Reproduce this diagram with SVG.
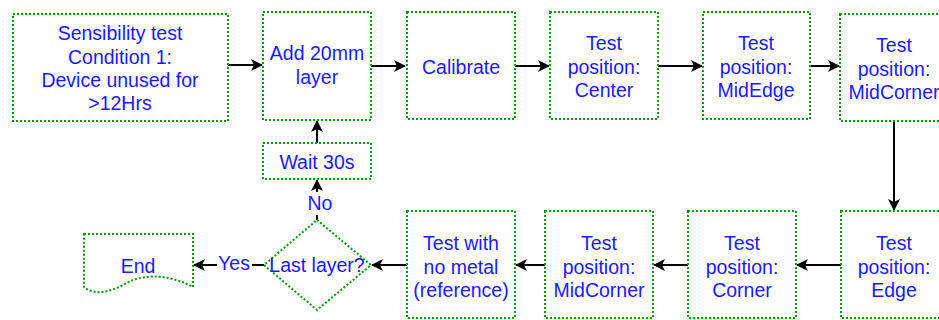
<svg xmlns="http://www.w3.org/2000/svg" width="939" height="320" viewBox="0 0 939 320">
  <style>
    .box { fill: #ffffff; stroke: #009900; stroke-width: 2; stroke-dasharray: 2 2; }
    .lbl { font-family: "Liberation Sans", Arial, sans-serif; font-size: 19.5px; fill: #1a1aff; text-anchor: middle; }
    .edge { stroke: #000000; stroke-width: 2; fill: none; marker-end: url(#arrow); }
  </style>
  <defs>
    <marker id="arrow" viewBox="0 0 12 12" refX="11" refY="6" markerWidth="6" markerHeight="6" markerUnits="strokeWidth" orient="auto">
      <path d="M0,0 L12,6 L0,12 L3,6 Z" fill="#000000"/>
    </marker>
  </defs>
  <rect width="939" height="320" fill="#ffffff"/>

  <g id="connectors">
    <line class="edge" x1="228" y1="65" x2="262" y2="65"/>
    <line class="edge" x1="371" y1="66" x2="405" y2="66"/>
    <line class="edge" x1="515" y1="66" x2="549" y2="66"/>
    <line class="edge" x1="658" y1="66" x2="702" y2="66"/>
    <line class="edge" x1="810" y1="66" x2="839" y2="66"/>
    <line class="edge" x1="894" y1="121" x2="894" y2="210"/>
    <line class="edge" x1="841" y1="265" x2="797" y2="265"/>
    <line class="edge" x1="688" y1="265" x2="654" y2="265"/>
    <line class="edge" x1="545" y1="265" x2="516" y2="265"/>
    <line class="edge" x1="407" y1="265" x2="372" y2="265"/>
    <line class="edge" x1="317" y1="143" x2="317" y2="121"/>
    <!-- No branch -->
    <line x1="317" y1="220" x2="317" y2="215" stroke="#000" stroke-width="2"/>
    <line class="edge" x1="317" y1="192" x2="317" y2="180"/>
    <!-- Yes branch -->
    <line x1="264" y1="265" x2="252" y2="265" stroke="#000" stroke-width="2"/>
    <line class="edge" x1="217" y1="265" x2="194" y2="265"/>
    <text class="lbl" x="320" y="210">No</text>
    <text class="lbl" x="234" y="270">Yes</text>
  </g>

  <g id="start">
    <rect class="box" x="13" y="14" width="215" height="107"/>
    <text class="lbl" x="120" y="40">Sensibility test</text>
    <text class="lbl" x="120" y="64">Condition 1:</text>
    <text class="lbl" x="120" y="87">Device unused for</text>
    <text class="lbl" x="120" y="110">&gt;12Hrs</text>
  </g>

  <g id="add-layer">
    <rect class="box" x="263" y="12" width="108" height="108"/>
    <text class="lbl" x="317" y="60">Add 20mm</text>
    <text class="lbl" x="317" y="84">layer</text>
  </g>

  <g id="calibrate">
    <rect class="box" x="407" y="12" width="108" height="107"/>
    <text class="lbl" x="461" y="74">Calibrate</text>
  </g>

  <g id="pos-center">
    <rect class="box" x="550" y="12" width="108" height="107"/>
    <text class="lbl" x="604" y="50">Test</text>
    <text class="lbl" x="604" y="74">position:</text>
    <text class="lbl" x="604" y="97">Center</text>
  </g>

  <g id="pos-midedge">
    <rect class="box" x="703" y="12" width="107" height="107"/>
    <text class="lbl" x="756" y="50">Test</text>
    <text class="lbl" x="756" y="74">position:</text>
    <text class="lbl" x="756" y="97">MidEdge</text>
  </g>

  <g id="pos-midcorner-top">
    <rect class="box" x="840" y="14" width="108" height="107"/>
    <text class="lbl" x="894" y="52">Test</text>
    <text class="lbl" x="894" y="76">position:</text>
    <text class="lbl" x="894" y="99">MidCorner</text>
  </g>

  <g id="pos-edge">
    <rect class="box" x="841" y="211" width="108" height="107"/>
    <text class="lbl" x="894" y="250">Test</text>
    <text class="lbl" x="894" y="274">position:</text>
    <text class="lbl" x="894" y="297">Edge</text>
  </g>

  <g id="pos-corner">
    <rect class="box" x="688" y="211" width="108" height="107"/>
    <text class="lbl" x="742" y="250">Test</text>
    <text class="lbl" x="742" y="274">position:</text>
    <text class="lbl" x="742" y="297">Corner</text>
  </g>

  <g id="pos-midcorner-bottom">
    <rect class="box" x="545" y="211" width="108" height="107"/>
    <text class="lbl" x="599" y="250">Test</text>
    <text class="lbl" x="599" y="274">position:</text>
    <text class="lbl" x="599" y="297">MidCorner</text>
  </g>

  <g id="no-metal">
    <rect class="box" x="407" y="211" width="108" height="107"/>
    <text class="lbl" x="461" y="250">Test with</text>
    <text class="lbl" x="461" y="274">no metal</text>
    <text class="lbl" x="461" y="297">(reference)</text>
  </g>

  <g id="last-layer">
    <polygon class="box" points="317,220 371,265 317,310 264,265"/>
    <text class="lbl" x="317" y="272">Last layer?</text>
  </g>

  <g id="wait">
    <rect class="box" x="263" y="143" width="108" height="36"/>
    <text class="lbl" x="317" y="169">Wait 30s</text>
  </g>

  <g id="end">
    <path class="box" d="M84,234 H193 V287 C165,272 140,275 125,284 C110,292 95,296 84,287 Z"/>
    <text class="lbl" x="138" y="273">End</text>
  </g>
</svg>
